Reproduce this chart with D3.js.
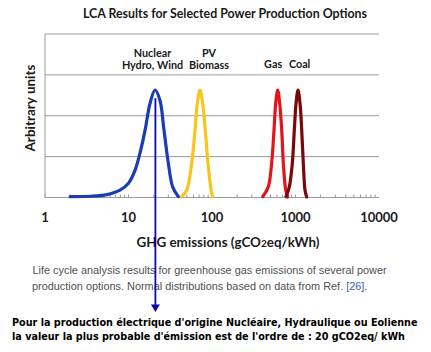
<!DOCTYPE html>
<html>
<head>
<meta charset="utf-8">
<script src="https://cdn.jsdelivr.net/npm/d3@7"></script>
<style>
  body { margin: 0; background: #fff; }
  svg { display: block; }
</style>
</head>
<body>
<svg id="chart"></svg>
<script>
const width = 431;
const height = 352;
const plot = { left: 45, right: 379, top: 34, bottom: 197.5 };

// emission value (gCO2eq/kWh) and height (arbitrary units)
const nuclearX = [2, 3.5, 5.5, 7.9, 10, 12, 13.7, 15.8, 18.1, 20.8, 23.8, 26.6, 30, 33.8, 39.5];
const nuclearY = [0.02, 0.03, 0.07, 0.18, 0.35, 0.67, 1.08, 1.65, 2.3, 2.63, 2.38, 1.65, 0.84, 0.26, 0.02];
const pvX = [43.4, 49.8, 57.1, 62.6, 66.7, 71.8, 77.4, 83.1, 90.3, 99.2, 102];
const pvY = [0.02, 0.18, 0.84, 1.65, 2.3, 2.63, 2.3, 1.65, 0.75, 0.1, 0.02];
const gasX = [405, 472, 518, 553, 579, 612, 647, 684, 715, 764, 807];
const gasY = [0.02, 0.26, 0.84, 1.65, 2.3, 2.63, 2.3, 1.65, 0.84, 0.18, 0.01];
const coalX = [769, 843, 916, 968, 1015, 1072, 1133, 1187, 1240, 1300, 1362];
const coalY = [0.02, 0.26, 0.84, 1.65, 2.3, 2.63, 2.3, 1.65, 0.84, 0.18, 0.01];

const seriesColors = ["#1a3cb4", "#f8c51c", "#e2141c", "#7a0808"];
const majorTicks = [1, 10, 100, 1000, 10000];
const gridLevels = [0, 1, 2, 3, 4];

const labels = [
  { x: 19.4, lines: ["Nuclear", "Hydro, Wind"] },
  { x: 92, lines: ["PV", "Biomass"] },
  { x: 540, lines: ["Gas"] },
  { x: 1120, lines: ["Coal"] }
];
const arrowValue = 21;
const arrowTop = 2.43;

const svg = d3.select("#chart")
  .attr("width", width)
  .attr("height", height);

svg.append("rect").attr("width", width).attr("height", height).attr("fill", "#fff");

const x = d3.scaleLog().domain([1, 10000]).range([plot.left, plot.right]);
const y = d3.scaleLinear().domain([0, 4]).range([plot.bottom, plot.top]);

const calibri = "Lato, 'Open Sans', sans-serif";

// shrink/grow a text's font so it spans the given width
function fitWidth(sel, w) {
  const node = sel.node();
  const fs = parseFloat(sel.attr("font-size") || node.parentNode.getAttribute("font-size"));
  const cur = node.getComputedTextLength();
  sel.attr("font-size", fs * w / cur);
}

// title
svg.append("text")
  .attr("x", 225).attr("y", 18)
  .attr("text-anchor", "middle")
  .attr("font-family", calibri).attr("font-weight", "bold")
  .attr("font-size", 12.4).attr("fill", "#1a1a1a")
  .text("LCA Results for Selected Power Production Options");

// gridlines
svg.append("g")
  .selectAll("line")
  .data(gridLevels)
  .join("line")
  .attr("x1", plot.left).attr("x2", plot.right)
  .attr("y1", d => y(d)).attr("y2", d => y(d))
  .attr("stroke", "#9a9a9a").attr("stroke-width", 1);

svg.append("line")
  .attr("x1", plot.left).attr("x2", plot.left)
  .attr("y1", plot.top).attr("y2", plot.bottom)
  .attr("stroke", "#9a9a9a");

// minor ticks on the log axis
const minor = x.ticks().filter(d => d < 10000);
svg.append("g")
  .selectAll("line")
  .data(minor)
  .join("line")
  .attr("x1", d => x(d)).attr("x2", d => x(d))
  .attr("y1", plot.bottom).attr("y2", plot.bottom - 3)
  .attr("stroke", "#9a9a9a");

svg.append("g")
  .selectAll("text")
  .data(majorTicks)
  .join("text")
  .attr("x", d => x(d)).attr("y", 222)
  .attr("text-anchor", "middle")
  .attr("font-family", calibri).attr("font-weight", "bold")
  .attr("font-size", 13).attr("fill", "#1a1a1a")
  .text(d => d);

// axis titles
const xt = svg.append("text")
  .attr("x", 228).attr("y", 247)
  .attr("text-anchor", "middle")
  .attr("font-family", calibri).attr("font-weight", "bold")
  .attr("font-size", 13.4).attr("fill", "#1a1a1a");
xt.append("tspan").text("GHG emissions (gCO");
xt.append("tspan").attr("font-size", 10).text("2");
xt.append("tspan").text("eq/kWh)");

svg.append("text")
  .attr("transform", "translate(35,108) rotate(-90)")
  .attr("text-anchor", "middle")
  .attr("font-family", calibri).attr("font-weight", "bold")
  .attr("font-size", 13.5).attr("fill", "#1a1a1a")
  .text("Arbitrary units");

// curves
const series = [
  [nuclearX, nuclearY],
  [pvX, pvY],
  [gasX, gasY],
  [coalX, coalY]
];
const line = d3.line()
  .x(d => x(d[0]))
  .y(d => y(d[1]))
  .curve(d3.curveCatmullRom.alpha(0.5));

svg.append("g")
  .selectAll("path")
  .data(series)
  .join("path")
  .attr("d", d => line(d3.zip(d[0], d[1])))
  .attr("fill", "none")
  .attr("stroke", (d, i) => seriesColors[i])
  .attr("stroke-width", 3.2)
  .attr("stroke-linecap", "round");

// category labels
const lab = svg.append("g")
  .selectAll("text")
  .data(labels)
  .join("text")
  .attr("text-anchor", "middle")
  .attr("font-family", calibri).attr("font-weight", "bold")
  .attr("font-size", 10.8).attr("fill", "#1a1a1a");
lab.selectAll("tspan")
  .data(d => d.lines.map((t, i, a) => ({ t, i, n: a.length, x: d.x })))
  .join("tspan")
  .attr("x", d => x(d.x))
  .attr("y", d => d.n === 1 ? 67.5 : 68.5 - (d.n - 1 - d.i) * 12)
  .text(d => d.t);

// caption
const cap = svg.append("g")
  .attr("font-family", "'Liberation Sans', Arial, sans-serif")
  .attr("font-size", 10.9).attr("fill", "#505050");
cap.append("text").attr("x", 32.5).attr("y", 273.5)
  .text("Life cycle analysis results for greenhouse gas emissions of several power");
const c2 = cap.append("text").attr("x", 32).attr("y", 289.5);
c2.append("tspan").text("production options. Normal distributions based on data from Ref. ");
c2.append("tspan").attr("fill", "#3a64a8").text("[26]");
c2.append("tspan").text(".");

// arrow
const ax = x(arrowValue);
svg.append("line")
  .attr("x1", ax).attr("x2", ax)
  .attr("y1", y(arrowTop)).attr("y2", 306)
  .attr("stroke", "#0a0aaa").attr("stroke-width", 1.8);
svg.append("path")
  .attr("d", `M${ax - 4.5},304.5 L${ax + 4.5},304.5 L${ax},312 Z`)
  .attr("fill", "#0a0aaa");

// bottom note
const note = svg.append("g")
  .attr("font-family", "'DejaVu Sans Condensed', 'DejaVu Sans', sans-serif")
  .attr("font-weight", "bold")
  .attr("fill", "#000");
const n1 = note.append("text").attr("x", 12).attr("y", 326).attr("font-size", 11)
  .text("Pour la production électrique d'origine Nucléaire, Hydraulique ou Eolienne");
const n2 = note.append("text").attr("x", 12).attr("y", 340).attr("font-size", 11)
  .text("la valeur la plus probable d'émission est de l'ordre de : 20 gCO2eq/ kWh");
fitWidth(n1, 406);
n2.attr("font-size", n1.attr("font-size"));
</script>
</body>
</html>
